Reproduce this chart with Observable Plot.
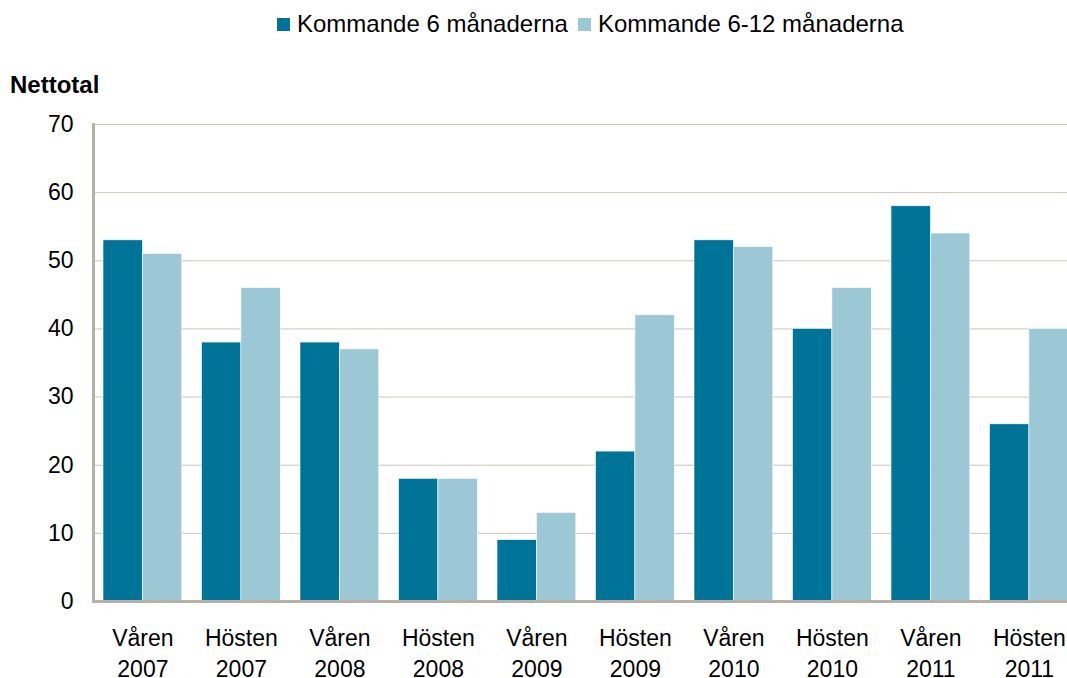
<!DOCTYPE html>
<html>
<head>
<meta charset="utf-8">
<script src="https://cdn.jsdelivr.net/npm/d3@7"></script>
<script src="https://cdn.jsdelivr.net/npm/@observablehq/plot@0.6"></script>
<style>
  html, body { margin: 0; padding: 0; background: #fff; }
  body { width: 1067px; height: 678px; overflow: hidden; font-family: "Liberation Sans", Arial, sans-serif; color: #000; }
  #header { position: relative; height: 100px; width: 1067px; }
  #header .t { position: absolute; font-size: 24px; line-height: 1; white-space: nowrap; }
  #header .sw { position: absolute; width: 13px; height: 13px; }
</style>
</head>
<body>
<div id="header"></div>
<div id="chart"></div>
<script>
// ---- data ----
const seasons = ["Våren", "Hösten", "Våren", "Hösten", "Våren", "Hösten", "Våren", "Hösten", "Våren", "Hösten"];
const years = ["2007", "2007", "2008", "2008", "2009", "2009", "2010", "2010", "2011", "2011"];
const seriesNames = ["Kommande 6 månaderna", "Kommande 6-12 månaderna"];
const next6 = [53, 38, 38, 18, 9, 22, 53, 40, 58, 26];
const next6to12 = [51, 46, 37, 18, 13, 42, 52, 46, 54, 40];
const yTicks = [0, 10, 20, 30, 40, 50, 60, 70];
const yLabel = "Nettotal";

// ---- styles ----
const colors = ["#007398", "#9cc8d5"];
const axisColor = "#b9b1a7";
const gridColor = "#ccc5ba";
const fontSize = 23;

const periods = seasons.map((s, i) => `${s} ${years[i]}`);
const rows = [];
periods.forEach((p, i) => {
  rows.push({period: p, series: seriesNames[0], value: next6[i]});
  rows.push({period: p, series: seriesNames[1], value: next6to12[i]});
});

// header: legend + y label
const header = document.getElementById("header");
const legendPos = [{sw: 277, tx: 297}, {sw: 578, tx: 598}];
seriesNames.forEach((name, i) => {
  const sw = document.createElement("span");
  sw.className = "sw";
  sw.style.left = legendPos[i].sw + "px";
  sw.style.top = "18px";
  sw.style.background = colors[i];
  header.appendChild(sw);
  const t = document.createElement("span");
  t.className = "t";
  t.style.left = legendPos[i].tx + "px";
  t.style.top = "12px";
  t.textContent = name;
  header.appendChild(t);
});
const yl = document.createElement("span");
yl.className = "t";
yl.style.left = "10px";
yl.style.top = "73px";
yl.style.fontWeight = "bold";
yl.textContent = yLabel;
header.appendChild(yl);

// ---- chart ----
const step = 98.5;
const r0 = 93.15;
const xRange = [r0, r0 + step * 10];
const bw = step * 0.8;

const chart = Plot.plot({
  width: 1067,
  height: 578,
  marginTop: 24,
  marginBottom: 77,
  marginLeft: 93,
  marginRight: 0,
  style: {fontFamily: "'Liberation Sans', Arial, sans-serif", fontSize: fontSize + "px", color: "#000", background: "#fff"},
  x: {domain: periods, range: xRange, paddingInner: 0.2, paddingOuter: 0.1, round: false, axis: null, label: null},
  y: {domain: [0, 70], axis: null, label: null},
  marks: [
    Plot.ruleY(yTicks.filter(t => t > 0), {stroke: gridColor, strokeWidth: 1}),
    Plot.barY(rows.filter(d => d.series === seriesNames[0]), {x: "period", y: "value", fill: colors[0], stroke: "#fff", strokeWidth: 0.6, insetRight: bw / 2}),
    Plot.barY(rows.filter(d => d.series === seriesNames[1]), {x: "period", y: "value", fill: colors[1], stroke: "#fff", strokeWidth: 0.6, insetLeft: bw / 2}),
    Plot.ruleY([0], {stroke: axisColor, strokeWidth: 3}),
    Plot.frame({anchor: "left", stroke: axisColor, strokeWidth: 3}),
    Plot.axisY({ticks: yTicks, tickSize: 0, tickPadding: 20, fontSize: fontSize, label: null, tickFormat: d => String(d)}),
    Plot.axisX({tickSize: 0, tickPadding: 22, fontSize: fontSize, lineHeight: 1.35, label: null, tickFormat: d => d.replace(" ", "\n")})
  ]
});
document.getElementById("chart").appendChild(chart);
</script>
</body>
</html>
